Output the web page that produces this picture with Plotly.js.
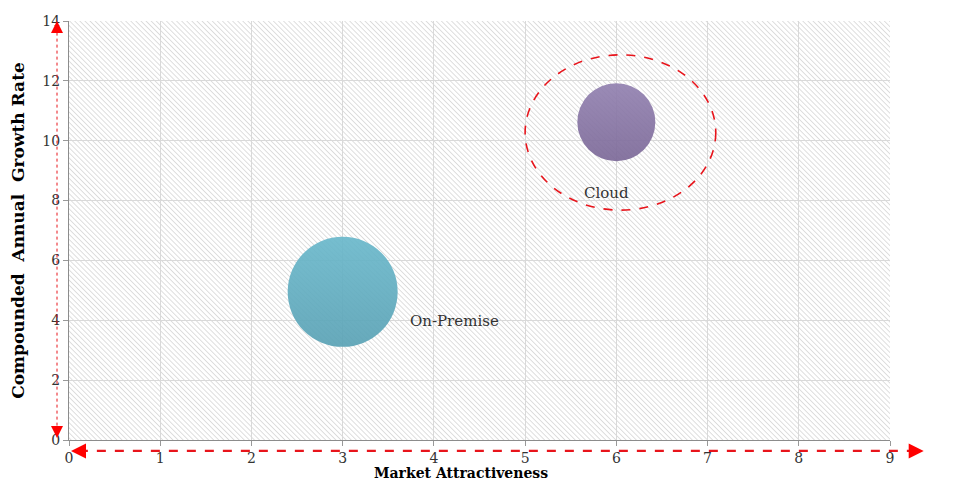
<!DOCTYPE html>
<html>
<head>
<meta charset="utf-8">
<script src="https://cdn.plot.ly/plotly-3.0.1.min.js"></script>
<style>html,body{margin:0;padding:0;background:#fff;}#chart{width:954px;height:493px;}</style>
</head>
<body>
<div id="chart"></div>
<script>
// ---- data ----
var segments = ["On-Premise", "Cloud"];
var marketAttractiveness = [3, 6];
var growthRate = [4.95, 10.62];
var bubbleSize = [110, 78];
var bubbleColors = ["#6ab8cb", "#9281b0"];
var labelX = [4.23, 5.89];
var labelY = [3.98, 8.25];
var xTicks = [0, 1, 2, 3, 4, 5, 6, 7, 8, 9];
var yTicks = [0, 2, 4, 6, 8, 10, 12, 14];
// highlight ring around the Cloud segment (data units)
var ringX = [5.0, 7.09];
var ringY = [7.68, 12.87];

var serif = "DejaVu Serif, Liberation Serif, serif";

var hatch = "data:image/svg+xml;charset=utf-8," + encodeURIComponent(
  "<svg xmlns='http://www.w3.org/2000/svg' width='821' height='419'>" +
  "<defs><pattern id='p' width='3.6' height='3.6' patternUnits='userSpaceOnUse' patternTransform='rotate(-45)'>" +
  "<line x1='0' y1='0' x2='0' y2='3.6' stroke='#c8c8c8' stroke-width='1.2'/></pattern></defs>" +
  "<rect width='821' height='419' fill='url(#p)'/></svg>");

var trace = {
  type: "scatter",
  mode: "markers",
  x: marketAttractiveness,
  y: growthRate,
  text: segments,
  hoverinfo: "text",
  marker: {
    size: bubbleSize,
    sizemode: "diameter",
    color: bubbleColors,
    opacity: 0.92,
    line: {width: 0},
    gradient: {type: "vertical", color: ["#5aa2b5", "#7c6998"]}
  },
  cliponaxis: false
};

var annotations = segments.map(function (s, i) {
  return {
    x: labelX[i], y: labelY[i], xref: "x", yref: "y",
    text: s, showarrow: false,
    font: {family: serif, size: 15, color: "#333"}
  };
});

// axis title
annotations.push({
  xref: "paper", yref: "paper", x: 0.477, y: -0.078, yanchor: "middle",
  text: "<b>Market Attractiveness</b>", showarrow: false,
  font: {family: serif, size: 14, color: "#000"}
});

// arrowheads
function head(x, y, ax, ay, w) {
  return {xref: "paper", yref: "paper", x: x, y: y, ax: ax, ay: ay,
    axref: "pixel", ayref: "pixel", text: "", showarrow: true,
    arrowhead: 2, arrowsize: 1.5, arrowwidth: w, arrowcolor: "#ff0000"};
}
annotations.push(head(0.0024, -0.026, 12, 0, 2));
annotations.push(head(1.041, -0.026, -12, 0, 2));
annotations.push(head(-0.0146, 1.0, 0, 12, 1.6));
annotations.push(head(-0.0146, 0.005, 0, -12, 1.6));

var shapes = [
  {type: "circle", xref: "x", yref: "y", x0: ringX[0], x1: ringX[1], y0: ringY[0], y1: ringY[1],
   line: {color: "#e8141b", width: 1.6, dash: "dash"}, fillcolor: "rgba(0,0,0,0)"},
  {type: "line", xref: "paper", yref: "paper", x0: 0.012, x1: 1.03, y0: -0.026, y1: -0.026,
   line: {color: "#e8141b", width: 2.4, dash: "dash"}},
  {type: "line", xref: "paper", yref: "paper", x0: -0.0146, x1: -0.0146, y0: 0.02, y1: 0.985,
   line: {color: "#e8141b", width: 1, dash: "dot"}}
];

var layout = {
  width: 954, height: 493,
  margin: {l: 69, r: 64, t: 21, b: 53},
  paper_bgcolor: "#ffffff",
  plot_bgcolor: "#ffffff",
  showlegend: false,
  xaxis: {
    range: [0, 9], tickvals: xTicks, ticks: "outside", ticklen: 5, tickcolor: "#999",
    showgrid: true, gridcolor: "#d9d9d9", zeroline: false,
    showline: true, linecolor: "#8c8c8c", linewidth: 1,
    tickfont: {family: serif, size: 14, color: "#333"}, fixedrange: true
  },
  yaxis: {
    range: [0, 14], tickvals: yTicks, ticks: "outside", ticklen: 5, tickcolor: "#999",
    showgrid: true, gridcolor: "#d9d9d9", zeroline: false,
    showline: true, linecolor: "#8c8c8c", linewidth: 1,
    tickfont: {family: serif, size: 14, color: "#333"}, fixedrange: true,
    title: {text: "<b>Compounded  Annual  Growth Rate</b>", standoff: 13,
      font: {family: serif, size: 17, color: "#000"}}
  },
  images: [{source: hatch, xref: "paper", yref: "paper", x: 0, y: 1, sizex: 1, sizey: 1,
    sizing: "stretch", xanchor: "left", yanchor: "top", layer: "below"}],
  shapes: shapes,
  annotations: annotations
};

Plotly.newPlot("chart", [trace], layout, {displayModeBar: false, staticPlot: true});
</script>
</body>
</html>
